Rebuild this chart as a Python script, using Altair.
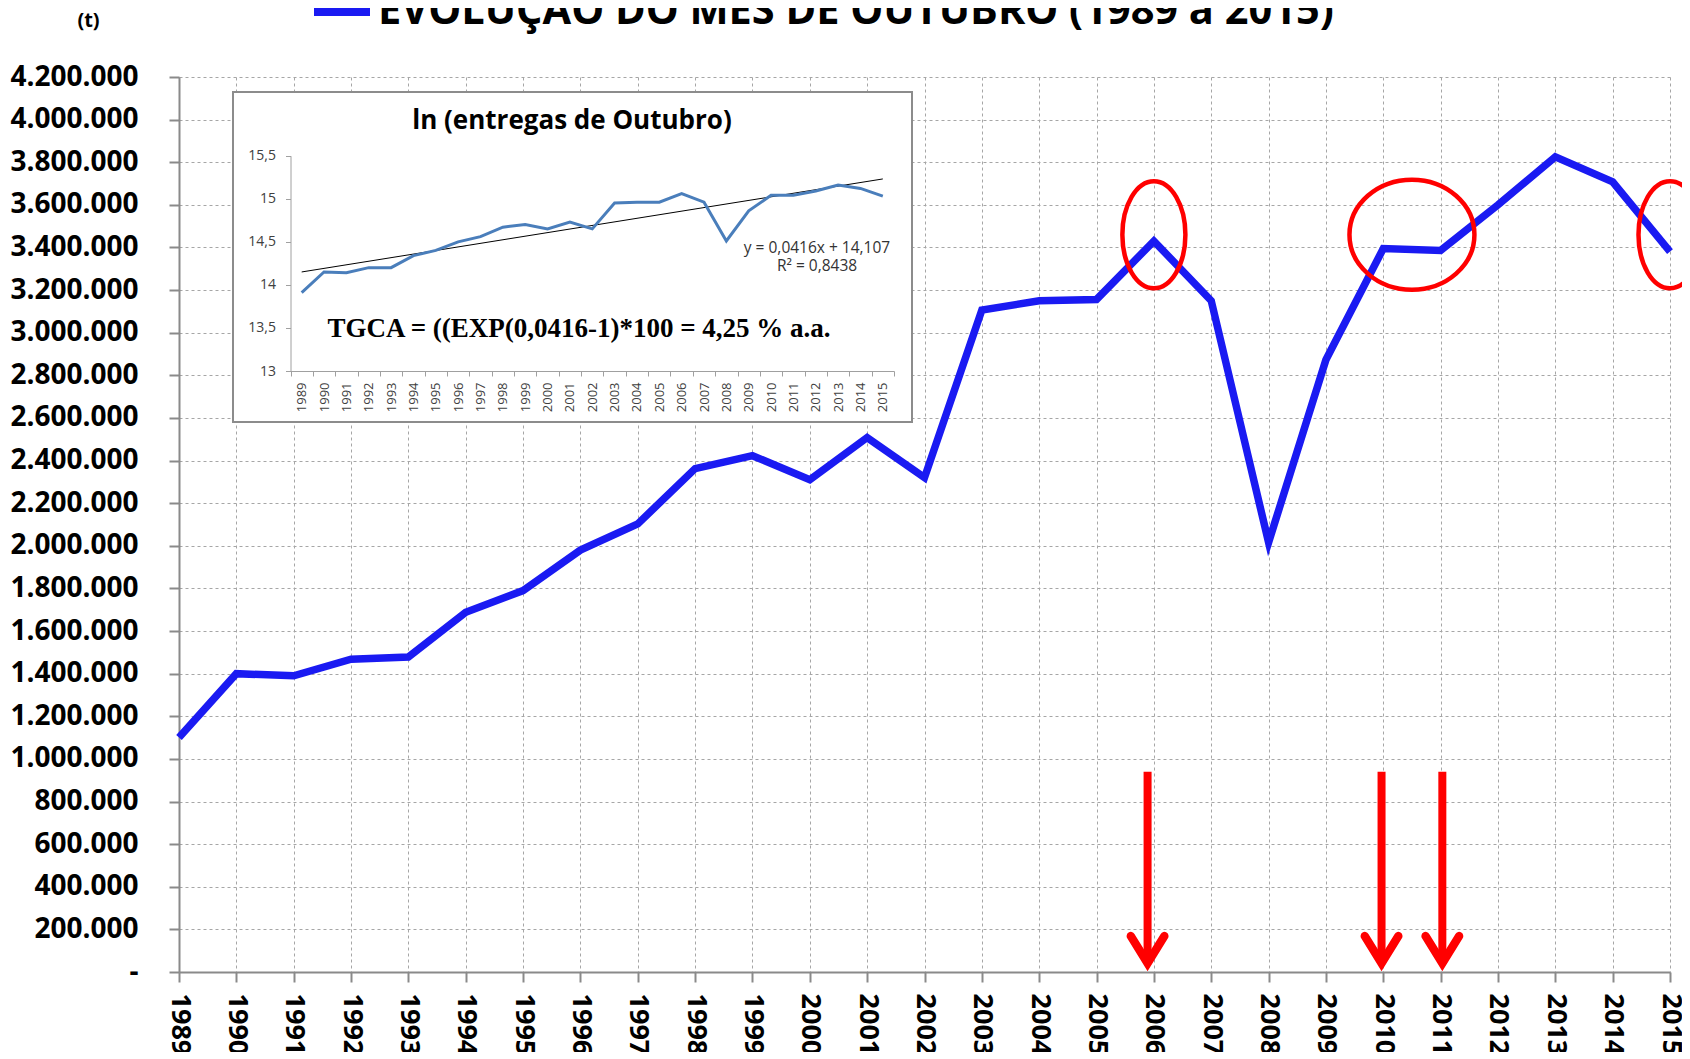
import altair as alt
import pandas as pd

# ---------------- data ----------------
years = [1989, 1990, 1991, 1992, 1993, 1994, 1995, 1996, 1997, 1998, 1999,
         2000, 2001, 2002, 2003, 2004, 2005, 2006, 2007, 2008, 2009, 2010,
         2011, 2012, 2013, 2014, 2015]
entregas_t = [1100000, 1400000, 1390000, 1468000, 1478000, 1688000, 1790000,
              1980000, 2103000, 2362000, 2423000, 2310000, 2508000, 2320000,
              3106000, 3150000, 3156000, 3430000, 3150000, 2016000, 2873000,
              3395000, 3386000, 3600000, 3825000, 3708000, 3380000]
ln_entregas = [13.91, 14.15, 14.14, 14.20, 14.20, 14.34, 14.40, 14.50, 14.56,
               14.67, 14.70, 14.65, 14.73, 14.65, 14.95, 14.96, 14.96, 15.06,
               14.96, 14.51, 14.86, 15.04, 15.04, 15.09, 15.16, 15.12, 15.03]
trend_years = [1989, 2015]
trend_ln = [14.15, 15.23]
y_ticks = [0, 200000, 400000, 600000, 800000, 1000000, 1200000, 1400000,
           1600000, 1800000, 2000000, 2200000, 2400000, 2600000, 2800000,
           3000000, 3200000, 3400000, 3600000, 3800000, 4000000, 4200000]
ln_ticks = [13, 13.5, 14, 14.5, 15, 15.5]
circle_years_narrow = [2006, 2015]
circle_years_wide = [2010.5]
circle_level = 3460000
arrow_years = [2005.89, 2009.97, 2011.03]
arrow_top = 940000
arrow_tip = 47000
arrow_head = 105000

SERIES = "EVOLUÇÃO DO MÊS DE OUTUBRO (1989 a 2015)"
INSET_TITLE = "ln (entregas de Outubro)"
EQ1 = "y = 0,0416x + 14,107"
EQ2 = "R² = 0,8438"
TGCA = "TGCA = ((EXP(0,0416-1)*100 = 4,25 % a.a."
UNIT = "(t)"

# ---------------- styles ----------------
FONT = "Open Sans"
SERIF = "Liberation Serif"
BLUE = "#1a1af2"
RED = "#ff0000"
AXIS_GRAY = "#8a8a8a"
GRID_GRAY = "#a6a6a6"
W, H = 1491, 895

x_scale = alt.Scale(domain=[1989, 2015], nice=False, zero=False)
y_scale = alt.Scale(domain=[0, 4200000], nice=False, zero=True)

x_axis = alt.Axis(values=years, format="d", labelAngle=90, labelFont=FONT,
                  labelFontSize=27, labelFontWeight="bold", labelColor="#000000",
                  labelPadding=11, labelOverlap=False, labelFlush=False,
                  tickSize=10, tickWidth=2, tickColor=AXIS_GRAY,
                  domainColor=AXIS_GRAY, domainWidth=2,
                  grid=True, gridColor=GRID_GRAY, gridDash=[3, 3], gridWidth=1,
                  title=None)
y_axis = alt.Axis(values=y_ticks, format=",d",
                  labelExpr="datum.value == 0 ? '-' : datum.label",
                  labelFont=FONT, labelFontSize=28, labelFontWeight="bold",
                  labelColor="#000000", labelPadding=31,
                  tickSize=10, tickWidth=2, tickColor=AXIS_GRAY,
                  domainColor=AXIS_GRAY, domainWidth=2,
                  grid=True, gridColor=GRID_GRAY, gridDash=[3, 3], gridWidth=1,
                  title=UNIT, titleAngle=0, titleX=-91, titleY=-57,
                  titleAlign="center", titleBaseline="middle",
                  titleFont=FONT, titleFontSize=20, titleFontWeight="bold",
                  titleColor="#000000")

legend = alt.Legend(orient="none", legendX=131, legendY=-97, title=None,
                    symbolType="stroke", symbolSize=3136, symbolStrokeWidth=8,
                    labelFont=FONT, labelFontSize=41.5, labelFontWeight="bold",
                    labelColor="#000000", labelLimit=3000, labelOffset=4,
                    padding=0)

main_df = pd.DataFrame({"ano": years, "entregas": entregas_t,
                        "serie": [SERIES] * len(years)})

line = alt.Chart(main_df).mark_line(strokeWidth=7.5, strokeJoin="miter",
                                    strokeCap="butt").encode(
    x=alt.X("ano:Q", scale=x_scale, axis=x_axis),
    y=alt.Y("entregas:Q", scale=y_scale, axis=y_axis),
    color=alt.Color("serie:N", scale=alt.Scale(range=[BLUE]), legend=legend),
)

ELL_NARROW = "M -0.573 0 A 0.573 0.973 0 1 0 0.573 0 A 0.573 0.973 0 1 0 -0.573 0 Z"
ELL_WIDE = "M -1.136 0 A 1.136 1 0 1 0 1.136 0 A 1.136 1 0 1 0 -1.136 0 Z"

narrow_df = pd.DataFrame({"ano": circle_years_narrow,
                          "entregas": [circle_level] * len(circle_years_narrow)})
wide_df = pd.DataFrame({"ano": circle_years_wide,
                        "entregas": [circle_level] * len(circle_years_wide)})

ell1 = alt.Chart(narrow_df).mark_point(shape=ELL_NARROW, size=12100, filled=False,
                                       stroke=RED, strokeWidth=4.5, opacity=1).encode(
    x="ano:Q", y="entregas:Q")
ell2 = alt.Chart(wide_df).mark_point(shape=ELL_WIDE, size=12100, filled=False,
                                     stroke=RED, strokeWidth=4.5, opacity=1).encode(
    x="ano:Q", y="entregas:Q")

arrow_df = pd.DataFrame({"ano": arrow_years,
                         "entregas": [arrow_top] * len(arrow_years),
                         "tip": [arrow_tip] * len(arrow_years),
                         "head": [arrow_head] * len(arrow_years)})
shaft = alt.Chart(arrow_df).mark_rule(color=RED, strokeWidth=8).encode(
    x="ano:Q", y="entregas:Q", y2="tip:Q")
CHEVRON = "M -1.24 -1 L 0 1 L 1.24 -1"
head = alt.Chart(arrow_df).mark_point(shape=CHEVRON, size=729, filled=False,
                                      stroke=RED, strokeWidth=8.5, opacity=1,
                                      strokeCap="round", strokeJoin="miter").encode(
    x="ano:Q", y="head:Q")

main = alt.layer(line, ell1, ell2, shaft, head)

# ---------------- inset ----------------
ix_scale = alt.Scale(type="band", range=[111.5, 715], paddingInner=0, paddingOuter=0)
iy_scale = alt.Scale(domain=[13, 15.5], range=[294, 78.7], nice=False, zero=False)

ix_axis = alt.Axis(orient="bottom", offset=-601, tickBand="extent",
                   labelAngle=-90, labelFont=FONT, labelFontSize=13,
                   labelColor="#404040", labelPadding=6, labelOverlap=False,
                   tickSize=5, tickColor="#a0a0a0", domainColor="#a0a0a0",
                   domainWidth=1, grid=False, title=None, zindex=1)
iy_axis = alt.Axis(orient="left", offset=-111.5, values=ln_ticks, format=".1~f",
                   labelFont=FONT, labelFontSize=14, labelColor="#404040",
                   labelPadding=10, tickSize=5, tickColor="#a0a0a0",
                   domainColor="#a0a0a0", domainWidth=1, grid=False,
                   title=None, zindex=1)

frame = alt.Chart(pd.DataFrame({"k": [0]})).mark_rect(
    fill="#ffffff", stroke="#8c8c8c", strokeWidth=2).encode(
    x=alt.value(54), x2=alt.value(733), y=alt.value(15), y2=alt.value(345))

ln_df = pd.DataFrame({"ano": years, "ln": ln_entregas})
trend_df = pd.DataFrame({"ano": trend_years, "ln": trend_ln})

ln_line = alt.Chart(ln_df).mark_line(color="#4a7ebb", strokeWidth=3).encode(
    x=alt.X("ano:O", bandPosition=0.5, scale=ix_scale, axis=ix_axis),
    y=alt.Y("ln:Q", scale=iy_scale, axis=iy_axis))
trend = alt.Chart(trend_df).mark_line(color="#000000", strokeWidth=1).encode(
    x=alt.X("ano:O", bandPosition=0.5), y=alt.Y("ln:Q"))


def note(text, x, y, size, font=FONT, weight="normal", color="#000000"):
    return alt.Chart(pd.DataFrame({"t": [text]})).mark_text(
        font=font, fontSize=size, fontWeight=weight, color=color,
        align="center", baseline="middle").encode(
        x=alt.value(x), y=alt.value(y), text="t:N")


inset = alt.layer(
    frame, trend, ln_line,
    note(INSET_TITLE, 393, 44, 26, weight="bold"),
    note(EQ1, 638, 171, 15.5, color="#333333"),
    note(EQ2, 638, 189, 15.5, color="#333333"),
    note(TGCA, 400, 252, 27, font=SERIF, weight="bold"),
)

chart = alt.layer(main, inset).resolve_scale(
    x="independent", y="independent"
).properties(
    width=W, height=H,
    padding={"left": 171, "top": 69, "right": 12, "bottom": 80},
    autosize=alt.AutoSizeParams(type="none"),
).configure(
    font=FONT,
    locale={"number": {"decimal": ",", "thousands": ".", "grouping": [3],
                       "currency": ["", ""]}},
).configure_view(stroke="transparent")

chart.save("out.html", embed_options={"renderer": "svg", "actions": False})
